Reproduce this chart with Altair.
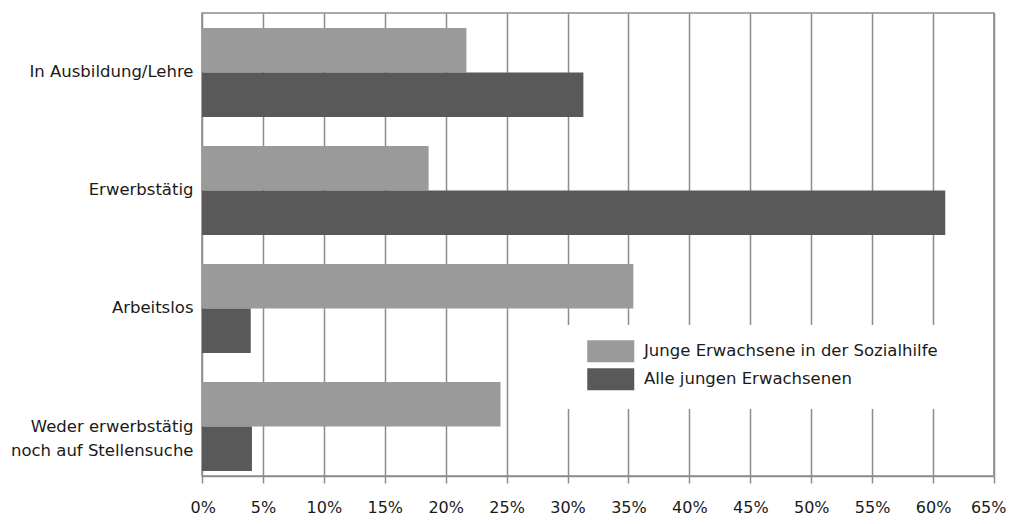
import altair as alt
import pandas as pd

categories = ["In Ausbildung/Lehre", "Erwerbstätig", "Arbeitslos",
              "Weder erwerbstätig|noch auf Stellensuche"]
series = ["Junge Erwachsene in der Sozialhilfe", "Alle jungen Erwachsenen"]
sozialhilfe = [21.7, 18.6, 35.4, 24.5]
alle = [31.3, 61.0, 4.0, 4.1]
x_ticks = list(range(0, 70, 5))
colors = ["#9a9a9a", "#595959"]

rows = []
for c, a, b in zip(categories, sozialhilfe, alle):
    rows.append({"cat": c, "series": series[0], "value": a})
    rows.append({"cat": c, "series": series[1], "value": b})
df = pd.DataFrame(rows)

FONT = "DejaVu Sans"
GRID = "#8c8c8c"
TXT = "#1a1a1a"

chart = alt.Chart(df).mark_bar().encode(
    x=alt.X("value:Q",
            scale=alt.Scale(domain=[0, 65], nice=False, zero=True),
            axis=alt.Axis(values=x_ticks, labelExpr="datum.value + '%'", title=None,
                          grid=True, gridColor=GRID, gridWidth=1.5, gridOpacity=1,
                          domainColor=GRID, domainWidth=1.5, tickColor=GRID, tickWidth=1.5,
                          tickSize=7, labelPadding=16, labelFont=FONT, labelFontSize=16,
                          labelColor=TXT, labelFlush=True, labelFlushOffset=12)),
    y=alt.Y("cat:N", sort=categories,
            scale=alt.Scale(paddingInner=0.2458, paddingOuter=0.0847, align=0.75),
            axis=alt.Axis(title=None, labelExpr="split(datum.label, '|')", ticks=False,
                          domain=False, grid=False, minExtent=194, maxExtent=194,
                          labelPadding=9, labelFont=FONT, labelFontSize=16.5,
                          labelColor=TXT, labelLineHeight=24, labelLimit=300)),
    yOffset=alt.YOffset("series:N", sort=series,
                        scale=alt.Scale(paddingInner=0, paddingOuter=0)),
    color=alt.Color("series:N", sort=series,
                    scale=alt.Scale(domain=series, range=colors),
                    legend=alt.Legend(orient="none", legendX=361, legendY=312,
                                      fillColor="white", padding=18, title=None,
                                      symbolType="M-11.75,-5.5H11.75V5.5H-11.75Z",
                                      symbolSize=16, symbolOffset=21.5,
                                      symbolStrokeWidth=0, symbolOpacity=1,
                                      labelFont=FONT, labelFontSize=16.5, labelColor=TXT,
                                      labelLimit=500, rowPadding=5, labelOffset=25)),
).properties(
    width=792, height=463,
    padding={"left": 0, "top": 5, "right": 0, "bottom": 0},
).configure_view(
    stroke=GRID, strokeWidth=1.5
)

chart.save("out.html", embed_options={"renderer": "svg", "actions": False})
